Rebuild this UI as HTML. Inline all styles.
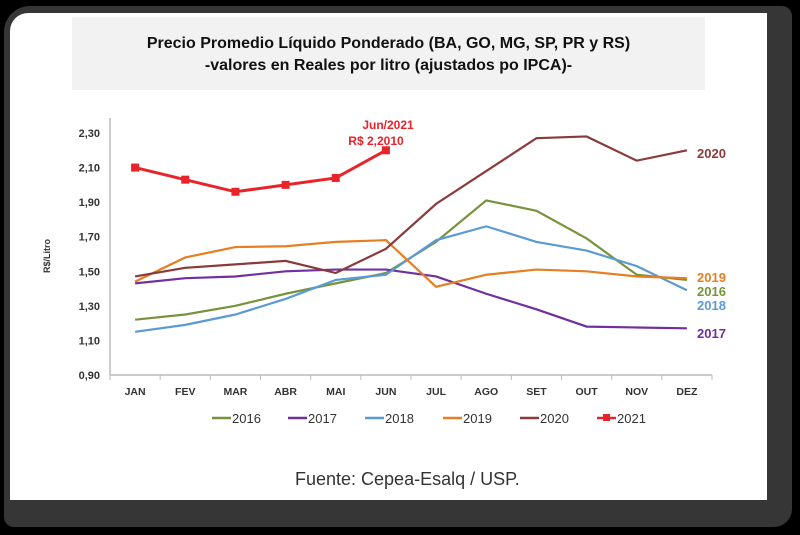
<!DOCTYPE html>
<html><head><meta charset="utf-8"><style>
html,body{margin:0;padding:0;background:#000;}
body{width:800px;height:535px;position:relative;overflow:hidden;font-family:"Liberation Sans",sans-serif;}
#frame{position:absolute;left:4px;top:6px;width:788px;height:521px;background:#363636;border-radius:26px 10px 18px 10px;}
#card{position:absolute;left:10px;top:13px;width:757px;height:487px;background:#fff;border-radius:18px 0 0 0;}
#tbox{position:absolute;left:72px;top:17px;width:633px;height:73px;background:#f2f2f2;}
#title{position:absolute;left:72px;top:33px;width:633px;text-align:center;font-weight:bold;font-size:16px;line-height:22px;color:#111;}
#src{position:absolute;left:295px;top:469px;font-size:18px;color:#333;}
svg{position:absolute;left:0;top:0;}
</style></head><body>
<div id="frame"></div>
<div id="card"></div>
<div id="tbox"></div>
<div id="title">Precio Promedio Líquido Ponderado (BA, GO, MG, SP, PR y RS)<br>-valores en Reales por litro (ajustados po IPCA)-</div>
<div id="src">Fuente: Cepea-Esalq / USP.</div>
<svg id="chart" width="800" height="535"></svg>
<script>
const months=["JAN","FEV","MAR","ABR","MAI","JUN","JUL","AGO","SET","OUT","NOV","DEZ"];
const yTicks=[0.9,1.1,1.3,1.5,1.7,1.9,2.1,2.3];
const s2016=[1.22,1.25,1.30,1.37,1.43,1.49,1.67,1.91,1.85,1.69,1.48,1.45];
const s2017=[1.43,1.46,1.47,1.50,1.51,1.51,1.47,1.37,1.28,1.18,1.175,1.17];
const s2018=[1.15,1.19,1.25,1.34,1.45,1.48,1.68,1.76,1.67,1.62,1.53,1.39];
const s2019=[1.44,1.58,1.64,1.645,1.67,1.68,1.41,1.48,1.51,1.50,1.47,1.46];
const s2020=[1.47,1.52,1.54,1.56,1.49,1.63,1.89,2.08,2.27,2.28,2.14,2.20];
const s2021=[2.10,2.03,1.96,2.00,2.04,2.20];
const names=["2016","2017","2018","2019","2020","2021"];
const colors=["#77933c","#7030a0","#5b9bd5","#e67e22","#8b3a3a","#e8232a"];
const series=[s2016,s2017,s2018,s2019,s2020,s2021];
const NS="http://www.w3.org/2000/svg";
const svg=document.getElementById('chart');
const X0=110,X1=712,Y0=375,Ytop=133;
const step=(X1-X0)/12;
function x(i){return X0+step*(i+0.5);}
function y(v){return Y0-(v-0.9)/(2.3-0.9)*(Y0-Ytop);}
function mk(t,a,txt){const e=document.createElementNS(NS,t);for(const k in a)e.setAttribute(k,a[k]);if(txt!==undefined)e.textContent=txt;svg.appendChild(e);return e;}
let e;
e=mk('line',{x1:X0,y1:Y0,x2:X0,y2:118,stroke:'#bbb','stroke-width':1.5});


e=mk('line',{x1:X0,y1:Y0,x2:X1,y2:Y0,stroke:'#bbb','stroke-width':1.5});


for(let i=0;i<=12;i++){e=mk('line',{x1:X0+step*i,y1:Y0,x2:X0+step*i,y2:Y0+5,stroke:'#bbb','stroke-width':1});

}
yTicks.forEach(v=>{e=mk('text',{x:100,y:y(v)+4,'text-anchor':'end','font-size':11,'font-weight':'bold',fill:'#333'},v.toFixed(2).replace('.',','));

});
months.forEach((m,i)=>{e=mk('text',{x:x(i),y:395,'text-anchor':'middle','font-size':10.5,'font-weight':'bold',fill:'#333'},m);

});
e=mk('text',{x:0,y:0,transform:'translate(50,256) rotate(-90)','text-anchor':'middle','font-size':9,'font-weight':'bold',fill:'#333'},'R$/Litro');


series.forEach((s,k)=>{
 e=mk('polyline',{points:s.map((v,i)=>x(i)+','+y(v)).join(' '),fill:'none',stroke:colors[k],'stroke-width':k==5?3:2.2});
 
 
 if(k==5){s.forEach((v,i)=>{e=mk('rect',{x:x(i)-4,y:y(v)-4,width:8,height:8,fill:colors[k]});
 
 });}
});
const endLabels=[[4,153,"2020"],[3,277,"2019"],[0,291,"2016"],[2,305,"2018"],[1,333,"2017"]];
endLabels.forEach(([k,yy,t])=>{e=mk('text',{x:697,y:yy+5,'font-size':13,'font-weight':'bold',fill:colors[k]},t);

});
e=mk('text',{x:388,y:129,'text-anchor':'middle','font-size':12,'font-weight':'bold',fill:'#e8232a'},'Jun/2021');


e=mk('text',{x:376,y:145,'text-anchor':'middle','font-size':12,'font-weight':'bold',fill:'#e8232a'},'R$ 2,2010');


const legX=[212,288,365,443,520,597];
names.forEach((n,k)=>{
 e=mk('line',{x1:legX[k],y1:418,x2:legX[k]+19,y2:418,stroke:colors[k],'stroke-width':2.5});
 
 
 if(k==5){e=mk('rect',{x:legX[k]+6,y:414,width:7,height:7,fill:colors[k]});
 
 }
 e=mk('text',{x:legX[k]+20,y:423,'font-size':13,fill:'#333'},n);
 
 
});
</script>
</body></html>
